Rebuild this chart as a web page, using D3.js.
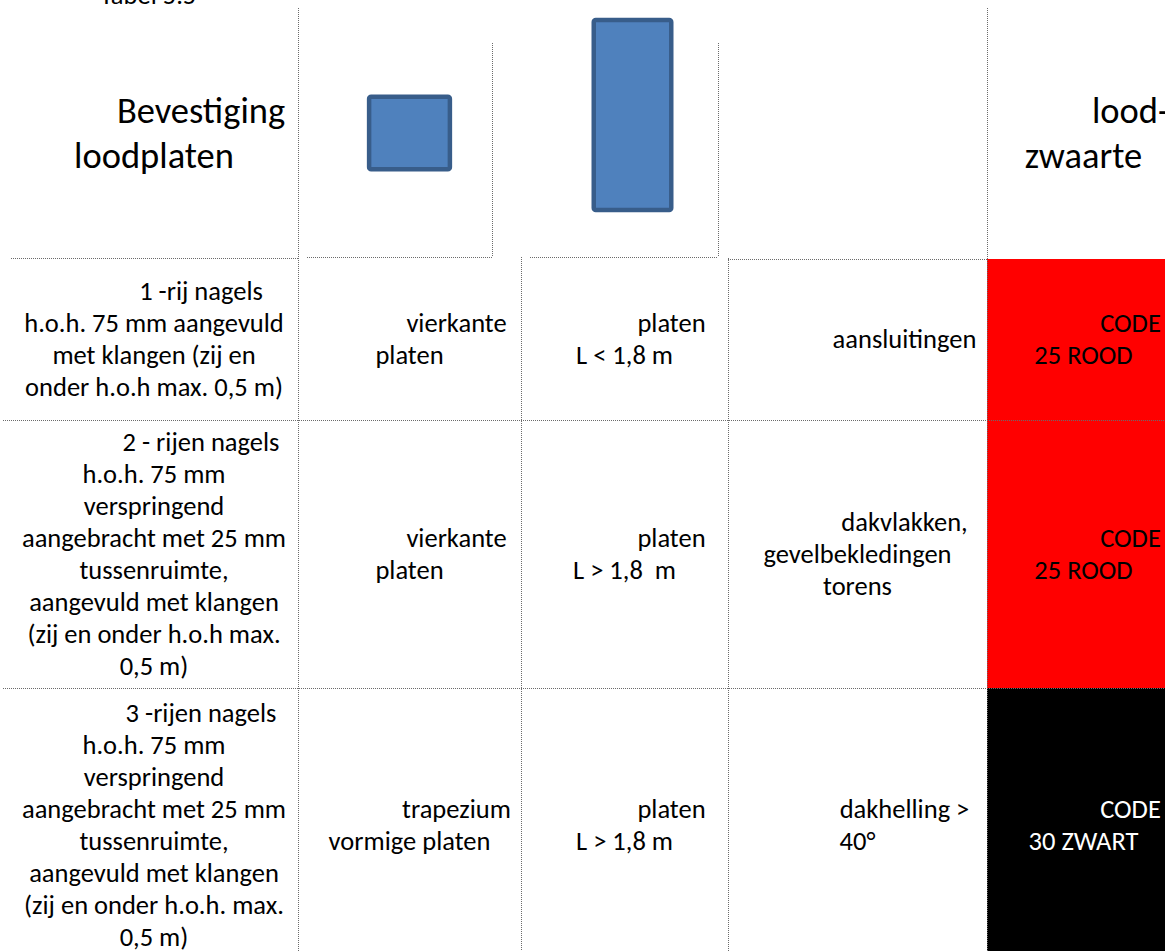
<!DOCTYPE html>
<html>
<head>
<meta charset="utf-8">
<script src="https://cdn.jsdelivr.net/npm/d3@7"></script>
<style>
  html, body { margin: 0; padding: 0; background: #fff; overflow: hidden; }
  svg { display: block; }
  text { font-family: Carlito, Calibri, Lato, sans-serif; white-space: pre; }
</style>
</head>
<body>
<svg id="chart" width="1165" height="951"></svg>
<script>
// ---- data ----
var tabelTitel = 'Tabel 5.5';
var kopBevestiging = ['Bevestiging', 'loodplaten'];
var kopLoodzwaarte = ['lood-', 'zwaarte'];

var bevestiging = [
  ['1 -rij nagels', 'h.o.h. 75 mm aangevuld', 'met klangen (zij en', 'onder h.o.h max. 0,5 m)'],
  ['2 - rijen nagels', 'h.o.h. 75 mm', 'verspringend', 'aangebracht met 25 mm', 'tussenruimte,',
   'aangevuld met klangen', '(zij en onder h.o.h max.', '0,5 m)'],
  ['3 -rijen nagels', 'h.o.h. 75 mm', 'verspringend', 'aangebracht met 25 mm', 'tussenruimte,',
   'aangevuld met klangen', '(zij en onder h.o.h. max.', '0,5 m)']
];
var plaatvorm = [['vierkante', 'platen'], ['vierkante', 'platen'], ['trapezium', 'vormige platen']];
var plaatlengte = [['platen', 'L < 1,8 m'], ['platen', 'L > 1,8  m'], ['platen', 'L > 1,8 m']];
var toepassing = [['aansluitingen'], ['dakvlakken,', 'gevelbekledingen', 'torens'], ['dakhelling >', '40°']];
var loodcode = [['CODE', '25 ROOD'], ['CODE', '25 ROOD'], ['CODE', '30 ZWART']];
var codeKleur = ['ROOD', 'ROOD', 'ZWART'];

// plate pictograms: width / length in relative units
var plaatBreedte = [1.04, 1.0];
var plaatLengte = [0.94, 2.37];

// ---- layout ----
var W = 1165, H = 951;
var colEdges = [10, 298, 521, 728, 987, 1180];
var rowEdges = [8, 258, 420, 688, 962];
var INDENT = 94;       // first line indent of every cell paragraph
var bodySize = 26.5, bodyLH = 32;
var headSize = 36.5, headLH = 45;

var svg = d3.select('#chart');

var fillScale = d3.scaleOrdinal().domain(['ROOD', 'ZWART']).range(['#ff0000', '#000000']);
var inkScale = d3.scaleOrdinal().domain(['ROOD', 'ZWART']).range(['#000000', '#ffffff']);
var plaatScale = d3.scaleLinear().domain([0, 1]).range([0, 82]);

function colCenter(c) { return (colEdges[c] + colEdges[c + 1]) / 2; }
function rowCenter(r) { return (rowEdges[r] + rowEdges[r + 1]) / 2; }

// coloured code cells
svg.append('g').selectAll('rect')
  .data(codeKleur)
  .join('rect')
  .attr('x', colEdges[4])
  .attr('y', function (d, i) { return i === 0 ? 259 : rowEdges[i + 1]; })
  .attr('width', W - colEdges[4])
  .attr('height', function (d, i) { return rowEdges[i + 2] - (i === 0 ? 259 : rowEdges[i + 1]); })
  .attr('fill', function (d) { return fillScale(d); });

// dotted cell borders (the header row has the odd Word borders)
var vLines = [[298, 8, H], [987, 8, H], [492, 43, 257], [718, 43, 257], [521, 257, H], [728, 258, H]];
var hLines = [[258, 11, 298], [257, 307, 492], [257, 530, 718], [259, 728, 987],
              [rowEdges[2], 3, W], [rowEdges[3], 3, W]];

var grid = svg.append('g')
  .attr('stroke', '#6b6b6b')
  .attr('stroke-width', 1)
  .attr('stroke-dasharray', '1,1');

grid.selectAll('.v').data(vLines).join('line').attr('class', 'v')
  .attr('x1', function (d) { return d[0] + 0.5; }).attr('x2', function (d) { return d[0] + 0.5; })
  .attr('y1', function (d) { return d[1]; }).attr('y2', function (d) { return d[2]; });

grid.selectAll('.h').data(hLines).join('line').attr('class', 'h')
  .attr('y1', function (d) { return d[0] + 0.5; }).attr('y2', function (d) { return d[0] + 0.5; })
  .attr('x1', function (d) { return d[1]; }).attr('x2', function (d) { return d[2]; });

// plate pictograms in the header
var plaatCx = [colCenter(1), colCenter(2) + 8];
var plaatCy = [rowCenter(0), 115];
svg.append('g').selectAll('rect')
  .data(plaatBreedte)
  .join('rect')
  .attr('x', function (d, i) { return plaatCx[i] - plaatScale(d) / 2 + 2.25; })
  .attr('y', function (d, i) { return plaatCy[i] - plaatScale(plaatLengte[i]) / 2 + 2.25; })
  .attr('width', function (d) { return plaatScale(d) - 4.5; })
  .attr('height', function (d, i) { return plaatScale(plaatLengte[i]) - 4.5; })
  .attr('rx', 2)
  .attr('fill', '#4f81bd')
  .attr('stroke', '#385d8a')
  .attr('stroke-width', 4.5);

function drawCell(lines, col, row, ink, size, lh) {
  var cx = colCenter(col), cy = rowCenter(row), n = lines.length;
  svg.append('g').selectAll('text')
    .data(lines)
    .join('text')
    .attr('x', function (d, i) { return i === 0 ? cx + INDENT / 2 : cx; })
    .attr('y', function (d, i) { return cy + (i - (n - 1) / 2) * lh; })
    .attr('dy', '0.35em')
    .attr('text-anchor', 'middle')
    .style('font-size', size + 'px')
    .style('fill', ink)
    .text(function (d) { return d; });
}

svg.append('text')
  .attr('x', 100)
  .attr('y', 4)
  .style('font-size', bodySize + 'px')
  .text(tabelTitel);

drawCell(kopBevestiging, 0, 0, '#000', headSize, headLH);
drawCell(kopLoodzwaarte, 4, 0, '#000', headSize, headLH);

for (var r = 0; r < 3; r++) {
  drawCell(bevestiging[r], 0, r + 1, '#000', bodySize, bodyLH);
  drawCell(plaatvorm[r], 1, r + 1, '#000', bodySize, bodyLH);
  drawCell(plaatlengte[r], 2, r + 1, '#000', bodySize, bodyLH);
  drawCell(toepassing[r], 3, r + 1, '#000', bodySize, bodyLH);
  drawCell(loodcode[r], 4, r + 1, inkScale(codeKleur[r]), bodySize, bodyLH);
}
</script>
</body>
</html>
